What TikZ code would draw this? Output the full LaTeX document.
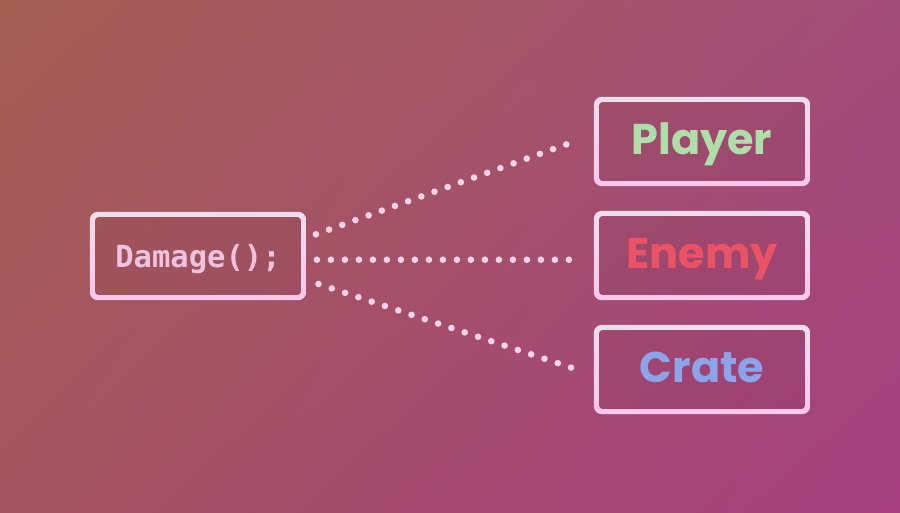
\documentclass[tikz,border=0pt]{standalone}
\usepackage{fontspec}
\newfontfamily\popfont{Poppins}
\newfontfamily\codefont{DejaVu Sans Mono}
\usetikzlibrary{calc,shadings}
\definecolor{bgUL}{HTML}{A55F52}
\definecolor{bgUR}{HTML}{A44C78}
\definecolor{bgLL}{HTML}{A5535F}
\definecolor{bgLR}{HTML}{A53F80}
\definecolor{ringtop}{HTML}{EEDDEE}
\definecolor{ringbot}{HTML}{FFC6EE}
\definecolor{dotc}{HTML}{FBD3EA}
\definecolor{codec}{HTML}{F8CBE8}
\definecolor{playerc}{HTML}{B4E8B0}
\definecolor{enemyc}{HTML}{F3566A}
\definecolor{cratec}{HTML}{92ACF3}
\newcommand\pinkring[1]{%
  \fill[black,opacity=0.035,rounded corners=8pt] (#1.north west) rectangle (#1.south east);
  \shade[top color=ringtop,bottom color=ringbot,even odd rule]
    [rounded corners=8pt] (#1.north west) rectangle (#1.south east)
    [rounded corners=4pt] ([xshift=5pt,yshift=-5pt]#1.north west) rectangle ([xshift=-5pt,yshift=5pt]#1.south east);}
\begin{document}
\begin{tikzpicture}[x=1pt,y=-1pt,
  box/.style={minimum width=216pt,minimum height=89pt,inner sep=0pt,text height=33pt,text depth=7pt},
  codebox/.style={box,minimum height=88pt,text height=28pt,text depth=6pt},
  objtext/.style={font=\popfont\bfseries\fontsize{43}{50}\selectfont},
  dots/.style={line width=6.6pt,line cap=round,dash pattern=on 0pt off 14pt,dotc}]
\useasboundingbox (0,0) rectangle (900,512);
\shade[upper left=bgUL,upper right=bgUR,lower left=bgLL,lower right=bgLR] (0,0) rectangle (900,512);
\node[codebox,font=\codefont\bfseries\fontsize{30.5}{36}\selectfont,text=codec] (dmg) at (198,256) {Damage();};
\node[box,objtext,text=playerc] (player) at (702,141.5) {Player};
\node[box,objtext,text=enemyc] (enemy) at (702,255.5) {Enemy};
\node[box,objtext,text=cratec] (crate) at (702,369.5) {Crate};
\pinkring{dmg}
\pinkring{player}
\pinkring{enemy}
\pinkring{crate}
\draw[dots] ([xshift=9.7pt,yshift=21.7pt]dmg.east) -- ([xshift=-27.3pt,yshift=-2.8pt]player.west);
\draw[dots] ([xshift=10.7pt,yshift=-3.7pt]dmg.east) -- ([xshift=-24.3pt,yshift=-4.2pt]enemy.west);
\draw[dots] ([xshift=12.3pt,yshift=-28pt]dmg.east) -- ([xshift=-22.3pt,yshift=1.8pt]crate.west);
\end{tikzpicture}
\end{document}
